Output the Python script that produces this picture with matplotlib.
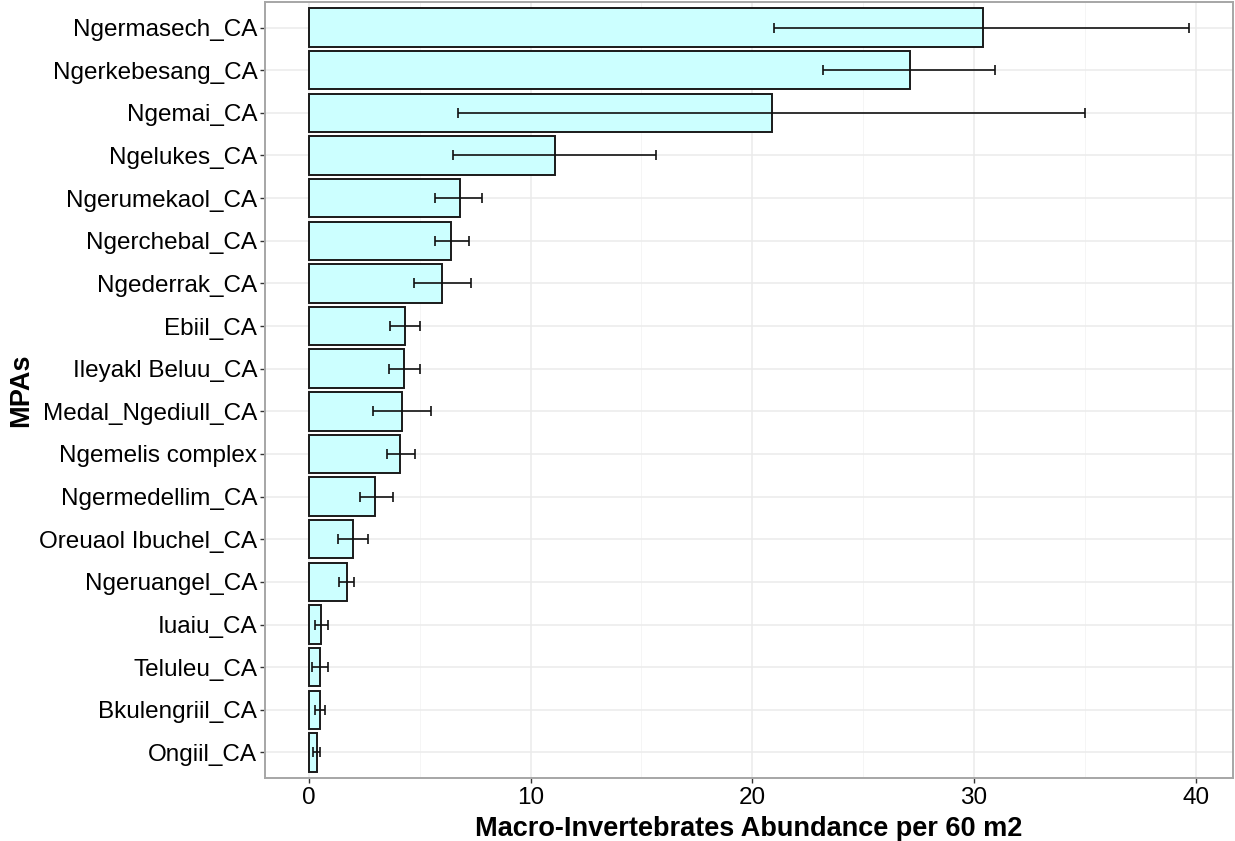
import matplotlib
matplotlib.use("Agg")
import matplotlib.pyplot as plt
from matplotlib.ticker import MultipleLocator

plt.rcParams['font.family'] = ['Liberation Sans', 'DejaVu Sans']

# MPA sites, ordered from highest to lowest mean abundance
mpas = [
    "Ngermasech_CA", "Ngerkebesang_CA", "Ngemai_CA", "Ngelukes_CA",
    "Ngerumekaol_CA", "Ngerchebal_CA", "Ngederrak_CA", "Ebiil_CA",
    "Ileyakl Beluu_CA", "Medal_Ngediull_CA", "Ngemelis complex",
    "Ngermedellim_CA", "Oreuaol Ibuchel_CA", "Ngeruangel_CA",
    "Iuaiu_CA", "Teluleu_CA", "Bkulengriil_CA", "Ongiil_CA",
]
mean_abundance = [30.4, 27.1, 20.9, 11.1, 6.8, 6.4, 6.0, 4.35, 4.3, 4.2,
                  4.1, 3.0, 2.0, 1.7, 0.55, 0.5, 0.5, 0.37]
lower = [21.0, 23.2, 6.7, 6.5, 5.7, 5.7, 4.75, 3.65, 3.6, 2.9,
         3.5, 2.3, 1.3, 1.35, 0.26, 0.12, 0.26, 0.19]
upper = [39.7, 30.95, 35.0, 15.65, 7.8, 7.2, 7.3, 5.0, 5.0, 5.5,
         4.8, 3.8, 2.67, 2.05, 0.84, 0.84, 0.72, 0.5]

n = len(mpas)
ypos = [n - 1 - i for i in range(n)]
err_lo = [m - lo for m, lo in zip(mean_abundance, lower)]
err_hi = [hi - m for m, hi in zip(mean_abundance, upper)]

fig = plt.figure(figsize=(12.35, 8.41), dpi=100)
ax = fig.add_axes([265 / 1235, 63 / 841, 968 / 1235, 776 / 841])

ax.barh(ypos, mean_abundance, height=0.9, color="#CCFFFF",
        edgecolor="#1a1a1a", linewidth=1.4, zorder=3)
ax.errorbar(mean_abundance, ypos, xerr=[err_lo, err_hi], fmt="none",
            ecolor="#111111", elinewidth=1.2, capsize=3.3, capthick=1.2,
            zorder=4)

# ggplot-style expansion of the axis ranges
xmax = max(upper)
pad = 0.05 * xmax
ax.set_xlim(-pad, xmax + pad)
ax.set_ylim(-0.6, n - 0.4)

ax.set_yticks(ypos)
ax.set_yticklabels(mpas)
ax.xaxis.set_major_locator(MultipleLocator(10))
ax.xaxis.set_minor_locator(MultipleLocator(5))

ax.grid(True, which="major", color="#EBEBEB", linewidth=1.1, zorder=0)
ax.grid(True, which="minor", axis="x", color="#F4F4F4", linewidth=0.6, zorder=0)
ax.set_axisbelow(True)

for side in ax.spines.values():
    side.set_color("#A6A6A6")
    side.set_linewidth(1.4)

ax.tick_params(axis="both", which="major", labelsize=17.5, length=3.5,
               width=1.0, color="#333333", labelcolor="black", pad=2)
ax.tick_params(axis="x", which="major", pad=3)
ax.tick_params(axis="x", which="minor", length=0)

ax.set_xlabel("Macro-Invertebrates Abundance per 60 m2", fontsize=19.5,
              fontweight="bold", labelpad=5)
ax.set_ylabel("MPAs", fontsize=19.5, fontweight="bold", labelpad=4)

fig.savefig("out.png", dpi=100)
